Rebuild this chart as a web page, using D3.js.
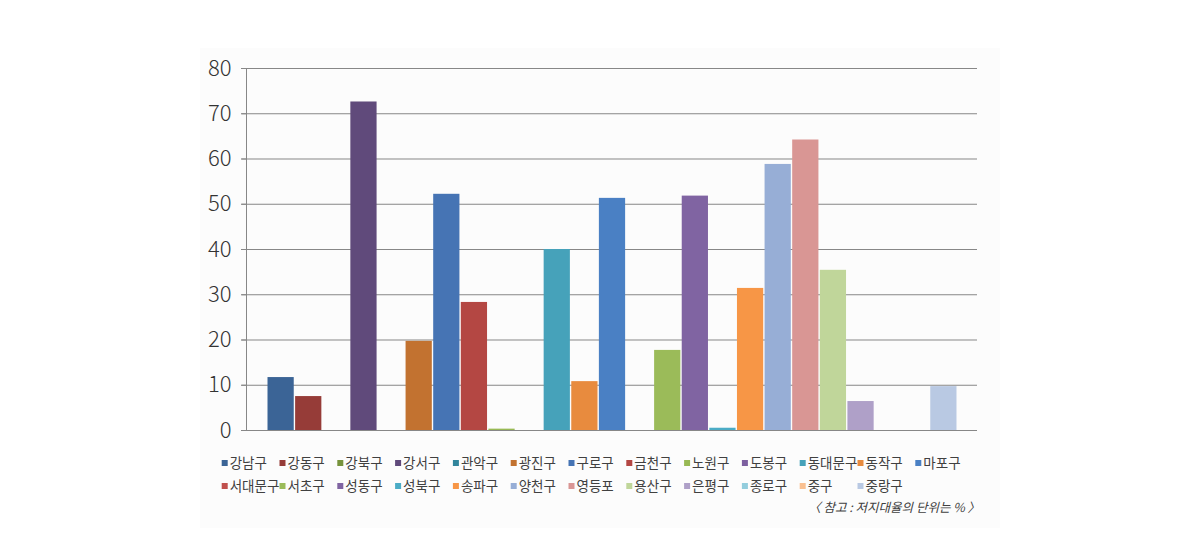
<!DOCTYPE html>
<html><head><meta charset="utf-8">
<script src="https://cdn.jsdelivr.net/npm/d3@7"></script>
<style>body{margin:0;background:#fff;} svg{display:block;}</style>
</head><body><svg id="c" width="1190" height="537"></svg>
<script>
const categories = ["강남구","강동구","강북구","강서구","관악구","광진구","구로구","금천구","노원구","도봉구","동대문구","동작구","마포구","서대문구","서초구","성동구","성북구","송파구","양천구","영등포","용산구","은평구","종로구","중구","중랑구"];
const values = [11.7,7.5,0,72.6,0,19.7,52.2,28.3,0.3,0,40.0,10.8,51.3,0,17.7,51.8,0.5,31.4,58.8,64.2,35.4,6.4,0,0,9.7];
const colors = ["#3B6496","#963C38","#77933C","#604A7B","#31859C","#C27230","#4674B4","#B44743","#98B954","#7D60A0","#46A2BA","#E88B3E","#4A80C4","#C0504D","#9BBB59","#8064A2","#4BACC6","#F79646","#97AED6","#D99694","#C0D69A","#AFA0C8","#93CDDD","#FAC090","#B9C9E3"];
const yTicks = [0,10,20,30,40,50,60,70,80];
const note = "〈 참고 : 저지대율의 단위는 % 〉";

const svg = d3.select("#c");
svg.append("rect").attr("x",200).attr("y",48).attr("width",800).attr("height",480).attr("fill","#fcfcfc");

const x = d3.scaleBand().domain(categories).range([267.5,956.5]).paddingInner(0.05).paddingOuter(0);
const y = d3.scaleLinear().domain([0,80]).range([430,68]);

// gridlines
svg.append("g").selectAll("line").data(yTicks).join("line")
  .attr("x1",241).attr("x2",977).attr("y1",d=>y(d)+0.5).attr("y2",d=>y(d)+0.5)
  .attr("stroke","#878787").attr("stroke-width",1);

// y axis
const yAxis = d3.axisLeft(y).tickValues(yTicks).tickSize(5).tickPadding(10);
const gy = svg.append("g").attr("transform","translate(246.5,0)").call(yAxis);
gy.select(".domain").attr("stroke","#878787").attr("d","M0,68V430");
gy.selectAll(".tick line").attr("stroke","#878787");
gy.selectAll(".tick text").attr("font-family","'Noto Sans CJK KR', 'Noto Sans', sans-serif")
  .attr("font-weight",300).attr("font-size",22).attr("fill","#333");

// bars
svg.append("g").selectAll("rect").data(categories).join("rect")
  .attr("x",d=>x(d)).attr("width",x.bandwidth())
  .attr("y",(d,i)=>y(values[i])).attr("height",(d,i)=>y(0)-y(values[i]))
  .attr("fill",(d,i)=>colors[i]);

// legend
const legStartX = 221.7, legStep = 57.8;
const leg = svg.append("g").selectAll("g").data(categories).join("g")
  .attr("transform",(d,i)=>`translate(${legStartX + (i%13)*legStep},${i<13?463:486})`);
leg.append("rect").attr("x",0).attr("y",-3).attr("width",6).attr("height",6).attr("fill",(d,i)=>colors[i]);
leg.append("text").attr("x",8).attr("y",0).attr("dy","0.36em").text(d=>d)
  .attr("font-family","'Noto Sans CJK KR', sans-serif").attr("font-size",13.5).attr("fill","#404040");

svg.append("text").attr("x",980).attr("y",507).attr("dy","0.36em").attr("text-anchor","end")
  .attr("font-family","'Noto Sans CJK KR', sans-serif").attr("font-size",12.5).attr("font-style","italic")
  .attr("fill","#404040").text(note);
</script></body></html>
